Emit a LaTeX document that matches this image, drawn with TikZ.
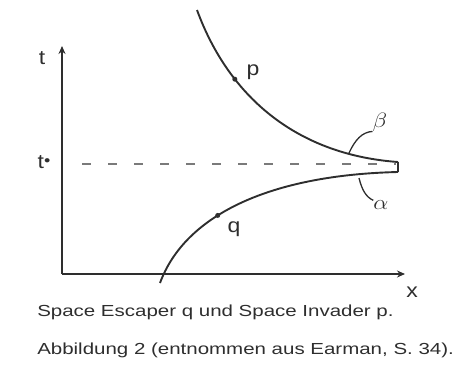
\documentclass[tikz,border=0pt]{standalone}
\usepackage{fontspec}
\setmainfont{Liberation Sans}
\usetikzlibrary{arrows.meta}
\definecolor{ink}{HTML}{2E2E2E}
\definecolor{dashgray}{HTML}{7A7A7A}
\begin{document}
\begin{tikzpicture}[x=1pt,y=-1pt,
  axis/.style={draw=ink,line width=2pt,-{Stealth[length=8pt,width=7pt]}},
  curve/.style={draw=ink,line width=1.9pt},
  dashline/.style={draw=dashgray,line width=2pt,dash pattern=on 9pt off 17pt},
  pointer/.style={draw=ink,line width=1.3pt},
  lbl/.style={text=ink,font=\fontsize{20}{24}\selectfont,inner sep=0pt,xscale=1.15},
  captext/.style={text=ink,font=\fontsize{16}{19}\selectfont,inner sep=0pt,anchor=west,xscale=1.28},
  dot/.style={circle,fill=ink,inner sep=0pt,minimum size=5pt}]
\useasboundingbox (0,0) rectangle (459,365);
\coordinate (O) at (62,274);
\coordinate (ttop) at (62,46);
\coordinate (xend) at (405,274);
\coordinate (dstart) at (82,164);
\coordinate (dend) at (396,164);
\coordinate (pstart) at (197,10);
\coordinate (pend) at (398,162);
\coordinate (qstart) at (160,283);
\coordinate (qend) at (398,172);
% axes
\draw[axis] (O) -- (ttop);
\draw[axis] (O) -- (xend);
% dashed asymptote
\draw[dashline] (dstart) -- (dend);
% curves
\draw[curve] (pstart) .. controls (230,100) and (300,155) .. (pend)
  coordinate[pos=0.29] (pdot);
\draw[curve] (qstart) .. controls (185,215) and (270,175) .. (qend)
  coordinate[pos=0.4] (qdot);
\draw[ink,line width=1.2pt] (pend) -- (qend);
\node[dot] (pd) at (pdot) {};
\node[dot] (qd) at (qdot) {};
% labels
\node[lbl] (tl) at (42,58) {t};
\node[lbl] (tsl) at (44,162) {t\raisebox{0.5ex}{\fontsize{11}{11}\selectfont$\bullet$}};
\node[lbl] (xl) at (412,292) {x};
\node[lbl] (pl) at (253,72) {p};
\node[lbl] (ql) at (234,229) {q};
\node[lbl] (bl) at (380,122) {$\beta$};
\node[lbl] (al) at (381,205) {$\alpha$};
\coordinate (bfoot) at (349,153);
\coordinate (afoot) at (359,178);
\draw[pointer] (bfoot) .. controls (355,140) and (362,132) .. (bl.south west);
\draw[pointer] (afoot) .. controls (362,190) and (366,197) .. (al.north west);
% caption
\node[captext] (c1) at (37,312) {Space Escaper q und Space Invader p.};
\node[captext] (c2) at (37,350) {Abbildung 2 (entnommen aus Earman, S. 34).};
\end{tikzpicture}
\end{document}
